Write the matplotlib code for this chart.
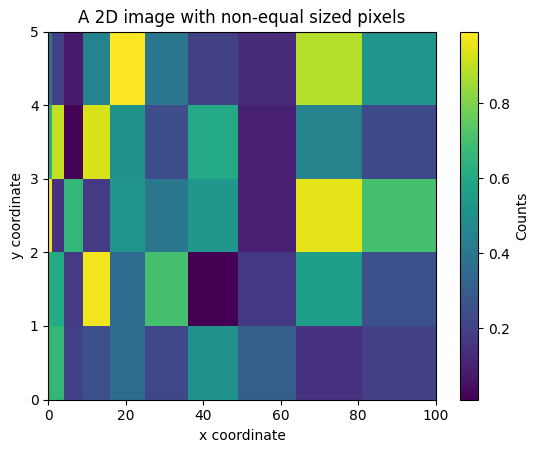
import numpy as np
import matplotlib
matplotlib.use("Agg")
import matplotlib.pyplot as plt

x_edges = [0, 1, 4, 9, 16, 25, 36, 49, 64, 81, 100]
y_edges = [0, 1, 2, 3, 4, 5]
row0 = [0.65, 0.66, 0.20, 0.25, 0.35, 0.22, 0.50, 0.30, 0.15, 0.20]
row1 = [0.62, 0.60, 0.18, 0.97, 0.35, 0.70, 0.01, 0.17, 0.55, 0.25]
row2 = [0.97, 0.15, 0.66, 0.18, 0.52, 0.40, 0.53, 0.10, 0.95, 0.70]
row3 = [0.62, 0.90, 0.02, 0.93, 0.50, 0.24, 0.60, 0.10, 0.45, 0.23]
row4 = [0.40, 0.20, 0.08, 0.45, 0.99, 0.40, 0.20, 0.13, 0.88, 0.52]
Z = np.array([row0, row1, row2, row3, row4])

fig, ax = plt.subplots(figsize=(5.49, 4.54), dpi=100)
m = ax.pcolormesh(x_edges, y_edges, Z, cmap='viridis')
ax.set_title('A 2D image with non-equal sized pixels')
ax.set_xlabel('x coordinate')
ax.set_ylabel('y coordinate')
cb = fig.colorbar(m, ax=ax)
cb.set_label('Counts')
fig.subplots_adjust(left=0.088, right=0.97, bottom=0.12, top=0.93)
fig.savefig('out.png')
